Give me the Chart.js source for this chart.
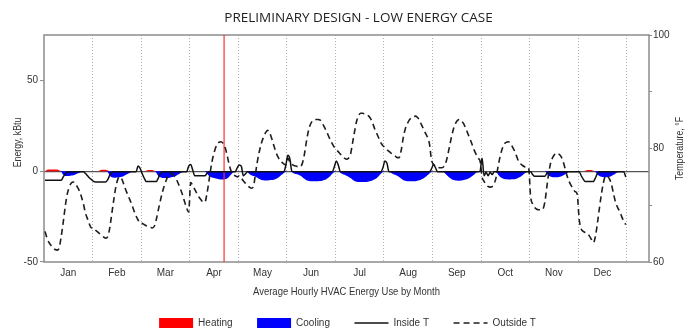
<!DOCTYPE html>
<html>
<head>
<meta charset="utf-8">
<script src="https://cdn.jsdelivr.net/npm/chart.js@4.4.1/dist/chart.umd.min.js"></script>
<style>
  html, body { margin: 0; padding: 0; background: #ffffff; }
  #wrap { width: 695px; height: 333px; }
</style>
</head>
<body>
<div id="wrap"><canvas id="chart" width="695" height="333"></canvas></div>
<script>
// Month names shown under the axis; each month holds 24 average hourly values.
const months = ['Jan', 'Feb', 'Mar', 'Apr', 'May', 'Jun', 'Jul', 'Aug', 'Sep', 'Oct', 'Nov', 'Dec'];

// Outside air temperature, °F (hours 0-23 for each month)
const outsideT = [
  65.4, 64.2, 63.4, 62.9, 62.5, 62.2, 62.1, 62.5, 64.5, 67.0, 69.8, 72.0, 73.2, 73.9, 74.1, 73.8, 73.2, 72.5, 71.5, 70.2, 68.6, 67.6, 66.6, 66.0,
  66.0, 65.6, 65.3, 65.0, 64.7, 64.4, 64.2, 64.5, 66.0, 68.5, 71.0, 73.2, 74.6, 75.0, 74.6, 73.6, 72.6, 71.8, 70.9, 70.0, 69.0, 68.1, 67.4, 66.8,
  66.8, 66.6, 66.4, 66.2, 66.1, 66.0, 66.3, 67.5, 69.2, 70.8, 72.3, 73.5, 74.5, 75.3, 75.6, 75.5, 75.1, 74.5, 73.7, 72.8, 71.8, 70.6, 69.5, 68.8,
  74.0, 73.5, 72.8, 72.1, 71.5, 71.0, 70.6, 70.5, 72.0, 74.2, 76.6, 78.5, 79.8, 80.7, 81.1, 81.2, 80.9, 80.2, 78.8, 77.2, 76.0, 75.4, 75.2, 75.0,
  75.2, 74.8, 74.3, 73.9, 73.5, 73.2, 73.0, 73.3, 75.5, 77.8, 79.6, 81.0, 82.0, 82.8, 83.2, 82.8, 81.8, 80.6, 79.5, 78.6, 78.0, 77.6, 77.3, 77.1,
  78.3, 77.6, 77.2, 77.0, 76.9, 76.8, 76.8, 77.2, 78.6, 80.8, 82.8, 84.1, 84.8, 85.1, 85.1, 85.1, 85.0, 84.5, 83.8, 83.1, 82.3, 81.5, 80.8, 80.2,
  79.8, 79.4, 79.0, 78.6, 78.3, 78.1, 78.3, 79.0, 81.0, 83.0, 84.8, 85.8, 86.2, 86.2, 86.1, 86.0, 85.7, 85.2, 84.4, 83.4, 82.6, 81.8, 81.0, 80.5,
  80.2, 79.8, 79.5, 79.2, 79.0, 78.7, 78.4, 78.4, 79.6, 81.8, 83.4, 84.3, 85.0, 85.4, 85.6, 85.7, 85.5, 85.0, 84.2, 83.5, 82.7, 82.0, 80.8, 78.0,
  77.2, 76.9, 76.7, 76.6, 76.6, 76.8, 77.4, 78.8, 80.5, 82.2, 83.6, 84.5, 85.0, 85.1, 84.8, 84.3, 83.5, 82.6, 81.7, 80.8, 79.8, 79.0, 78.3, 77.8,
  75.0, 74.2, 73.6, 73.3, 73.2, 73.3, 73.8, 75.0, 77.0, 78.7, 80.0, 80.8, 81.1, 81.2, 80.9, 80.3, 79.6, 78.7, 77.8, 77.3, 77.0, 76.8, 76.7, 76.6,
  71.5, 70.2, 69.6, 69.3, 69.2, 69.2, 69.3, 70.5, 73.2, 75.8, 77.6, 78.5, 79.0, 79.2, 79.0, 78.6, 77.8, 76.5, 75.2, 74.2, 73.5, 72.9, 72.4, 72.0,
  67.5, 65.8, 65.4, 65.2, 65.0, 64.6, 64.0, 63.4, 64.5, 66.8, 69.5, 72.0, 74.0, 75.2, 75.1, 74.6, 73.6, 72.0, 70.5, 69.6, 68.9, 68.0, 67.2, 66.6
];

// Inside air temperature, °F
const insideT = [
  74.4, 74.4, 74.4, 74.4, 74.4, 74.4, 74.4, 74.4, 74.4, 75.0, 75.5, 75.9, 75.9, 75.9, 75.9, 75.9, 75.9, 75.9, 75.9, 75.9, 75.6, 75.2, 74.8, 74.5,
  74.2, 74.1, 74.1, 74.1, 74.1, 74.1, 74.1, 74.5, 75.3, 75.8, 75.9, 75.9, 75.9, 75.9, 75.9, 75.9, 75.9, 75.9, 75.9, 75.9, 75.9, 75.9, 76.9, 76.5,
  75.6, 74.8, 74.2, 74.2, 74.2, 74.2, 74.2, 74.2, 74.8, 75.6, 75.9, 75.9, 75.9, 75.9, 75.9, 75.9, 75.9, 75.9, 75.9, 75.9, 75.9, 75.9, 75.9, 76.9,
  77.2, 76.2, 75.2, 75.2, 75.2, 75.2, 75.2, 75.2, 75.6, 75.9, 75.9, 75.9, 75.9, 75.9, 75.9, 75.9, 75.9, 75.9, 75.9, 75.9, 75.9, 75.9, 75.9, 76.6,
  77.1, 76.9, 75.2, 75.5, 75.9, 75.9, 75.9, 75.9, 75.9, 75.9, 75.9, 75.9, 75.9, 75.9, 75.9, 75.9, 75.9, 75.9, 75.9, 75.9, 75.9, 75.9, 75.9, 77.0,
  78.8, 78.2, 76.0, 75.9, 75.9, 75.9, 75.9, 75.9, 75.9, 75.9, 75.9, 75.9, 75.9, 75.9, 75.9, 75.9, 75.9, 75.9, 75.9, 75.9, 75.9, 75.9, 75.9, 76.8,
  77.8, 77.0, 75.9, 75.9, 75.9, 75.9, 75.9, 75.9, 75.9, 75.9, 75.9, 75.9, 75.9, 75.9, 75.9, 75.9, 75.9, 75.9, 75.9, 75.9, 75.9, 75.9, 75.9, 76.6,
  77.8, 77.4, 75.9, 75.9, 75.9, 75.9, 75.9, 75.9, 75.9, 75.9, 75.9, 75.9, 75.9, 75.9, 75.9, 75.9, 75.9, 75.9, 75.9, 75.9, 75.9, 75.9, 75.9, 76.4,
  77.2, 76.6, 75.9, 75.9, 75.9, 75.9, 75.9, 75.9, 75.9, 75.9, 75.9, 75.9, 75.9, 75.9, 75.9, 75.9, 75.9, 75.9, 75.9, 75.9, 75.9, 75.9, 75.9, 76.0,
  78.3, 75.2, 75.8, 75.2, 75.8, 75.4, 75.9, 75.9, 75.9, 75.9, 75.9, 75.9, 75.9, 75.9, 75.9, 75.9, 75.9, 75.9, 75.9, 75.9, 75.9, 75.9, 75.9, 75.9,
  75.9, 75.4, 75.1, 75.1, 75.1, 75.1, 75.1, 75.1, 75.6, 75.9, 75.9, 75.9, 75.9, 75.9, 75.9, 75.9, 75.9, 75.9, 75.9, 75.9, 75.9, 75.9, 75.9, 75.9,
  75.9, 75.2, 74.6, 74.2, 74.2, 74.2, 74.2, 74.2, 74.8, 75.6, 75.9, 75.9, 75.9, 75.9, 75.9, 75.9, 75.9, 75.9, 75.9, 75.9, 75.9, 75.9, 75.9, 75.0
];

// Cooling energy, kBtu (drawn below zero)
const cooling = [
  0, 0, 0, 0, 0, 0, 0, 0, -0.3, -2.0, -2.6, -2.7, -2.6, -2.4, -2.2, -1.8, -1.3, -0.8, -0.3, 0, 0, 0, 0, 0,
  0, 0, 0, 0, 0, 0, 0, -0.5, -2.5, -3.4, -3.6, -3.6, -3.5, -3.3, -3.0, -2.6, -2.0, -1.4, -0.8, -0.2, 0, 0, 0, 0,
  0, 0, 0, 0, 0, 0, 0, -0.8, -2.6, -3.4, -3.7, -3.8, -3.8, -3.7, -3.5, -3.2, -2.8, -2.3, -1.7, -1.0, -0.4, 0, 0, 0,
  0, 0, 0, 0, 0, 0, 0, 0, -1.2, -2.5, -3.2, -3.6, -3.9, -4.2, -4.4, -4.6, -4.6, -4.4, -4.0, -3.0, -1.8, -0.6, 0, 0,
  0, 0, 0, 0, -0.5, -1.5, -2.2, -2.6, -3.0, -3.6, -4.3, -4.8, -5.0, -5.1, -5.1, -5.0, -4.9, -4.7, -4.3, -3.7, -2.9, -2.0, -1.0, -0.3,
  0, 0, -0.5, -1.2, -1.5, -1.8, -2.3, -3.0, -4.0, -4.8, -5.3, -5.5, -5.6, -5.6, -5.6, -5.5, -5.4, -5.2, -4.9, -4.4, -3.6, -2.6, -1.4, -0.4,
  0, 0, -0.8, -1.5, -2.0, -2.5, -3.0, -3.8, -4.7, -5.4, -5.8, -6.0, -6.0, -6.0, -6.0, -5.9, -5.7, -5.4, -5.0, -4.5, -3.7, -2.6, -1.4, -0.4,
  0, 0, 0, -0.8, -1.5, -2.0, -2.5, -3.2, -4.0, -4.8, -5.3, -5.5, -5.6, -5.6, -5.6, -5.5, -5.3, -5.0, -4.6, -4.0, -3.2, -2.2, -1.2, -0.3,
  0, 0, 0, 0, 0, -0.4, -1.5, -2.6, -3.6, -4.4, -4.9, -5.1, -5.2, -5.2, -5.1, -4.9, -4.6, -4.2, -3.6, -2.8, -1.9, -0.9, -0.2, 0,
  0, 0, 0, 0, 0, 0, 0, -0.5, -2.0, -3.2, -3.9, -4.3, -4.5, -4.6, -4.6, -4.5, -4.4, -4.1, -3.6, -3.0, -2.2, -1.3, -0.5, 0,
  0, 0, 0, 0, 0, 0, 0, 0, -1.2, -2.5, -3.0, -3.3, -3.4, -3.4, -3.2, -2.9, -2.4, -1.7, -1.0, -0.3, 0, 0, 0, 0,
  0, 0, 0, 0, 0, 0, 0, 0, -0.3, -1.8, -2.6, -3.0, -3.2, -3.3, -3.2, -3.0, -2.6, -2.0, -1.3, -0.6, -0.1, 0, 0, 0
];

// Heating energy, kBtu (small early-morning loads in the cold months)
const heating = [
  0, 0.8, 0.9, 0.9, 0.9, 0.9, 0.9, 0.5, 0, 0, 0, 0, 0, 0, 0, 0, 0, 0, 0, 0, 0, 0, 0, 0,
  0, 0, 0, 0.4, 0.8, 0.8, 0.8, 0.4, 0, 0, 0, 0, 0, 0, 0, 0, 0, 0, 0, 0, 0, 0, 0, 0,
  0, 0, 0.3, 0.7, 0.7, 0.7, 0.3, 0, 0, 0, 0, 0, 0, 0, 0, 0, 0, 0, 0, 0, 0, 0, 0, 0,
  0, 0, 0, 0, 0, 0, 0, 0, 0, 0, 0, 0, 0, 0, 0, 0, 0, 0, 0, 0, 0, 0, 0, 0,
  0, 0, 0, 0, 0, 0, 0, 0, 0, 0, 0, 0, 0, 0, 0, 0, 0, 0, 0, 0, 0, 0, 0, 0,
  0, 0, 0, 0, 0, 0, 0, 0, 0, 0, 0, 0, 0, 0, 0, 0, 0, 0, 0, 0, 0, 0, 0, 0,
  0, 0, 0, 0, 0, 0, 0, 0, 0, 0, 0, 0, 0, 0, 0, 0, 0, 0, 0, 0, 0, 0, 0, 0,
  0, 0, 0, 0, 0, 0, 0, 0, 0, 0, 0, 0, 0, 0, 0, 0, 0, 0, 0, 0, 0, 0, 0, 0,
  0, 0, 0, 0, 0, 0, 0, 0, 0, 0, 0, 0, 0, 0, 0, 0, 0, 0, 0, 0, 0, 0, 0, 0,
  0, 0, 0, 0, 0, 0, 0, 0, 0, 0, 0, 0, 0, 0, 0, 0, 0, 0, 0, 0, 0, 0, 0, 0,
  0, 0, 0, 0, 0, 0, 0, 0, 0, 0, 0, 0, 0, 0, 0, 0, 0, 0, 0, 0, 0, 0, 0, 0,
  0, 0, 0, 0.3, 0.7, 0.7, 0.7, 0.3, 0, 0, 0, 0, 0, 0, 0, 0, 0, 0, 0, 0, 0, 0, 0, 0
];

// Selected hour (red cursor line), counted from the first hour of January
const markerHour = 89;

const energyTicks = [-50, 0, 50];
const tempTicks = [60, 70, 80, 90, 100];
const tempTickLabels = [60, 80, 100];

const chartTitle = 'PRELIMINARY DESIGN - LOW ENERGY CASE';
const xTitle = 'Average Hourly HVAC Energy Use by Month';
const yTitle = 'Energy, kBtu';
const y2Title = 'Temperature, °F';

const HOURS_PER_MONTH = 24;
const SANS = "'Liberation Sans', Arial, sans-serif";
const TEXT = '#333333';
const clear = 'rgba(0,0,0,0)';

const toPoints = arr => arr.map((v, i) => ({ x: i + 0.5, y: v }));

Chart.defaults.font.family = SANS;
Chart.defaults.font.size = 10;
Chart.defaults.color = TEXT;

// Draw text squeezed horizontally so it reads like a narrow face
function narrowText(ctx, text, x, y, angle, squeeze) {
  ctx.save();
  ctx.translate(x, y);
  ctx.rotate(angle);
  ctx.scale(squeeze, 1);
  ctx.fillText(text, 0, 0);
  ctx.restore();
}

// Frame around the plot area plus the titles
const decor = {
  id: 'decor',
  beforeDatasetsDraw(chart) {
    const { ctx, chartArea: a } = chart;
    ctx.save();
    ctx.strokeStyle = '#8c8c8c';
    ctx.lineWidth = 1.5;
    ctx.strokeRect(a.left, a.top, a.right - a.left, a.bottom - a.top);
    ctx.restore();
  },
  afterDraw(chart) {
    const { ctx, chartArea: a } = chart;
    const cx = (a.left + a.right) / 2;
    const cy = (a.top + a.bottom) / 2;
    ctx.save();
    ctx.textAlign = 'center';
    ctx.textBaseline = 'middle';
    ctx.fillStyle = '#222222';
    ctx.font = "13.5px 'Open Sans', sans-serif";
    ctx.fillText(chartTitle, cx + 12, 18);

    ctx.fillStyle = TEXT;
    ctx.font = '11px ' + SANS;
    narrowText(ctx, xTitle, cx, a.bottom + 30, 0, 0.86);
    narrowText(ctx, yTitle, 17.5, cy - 6, -Math.PI / 2, 0.8);
    narrowText(ctx, y2Title, a.right + 31, cy, -Math.PI / 2, 0.8);
    ctx.restore();
  }
};

new Chart(document.getElementById('chart'), {
  type: 'line',
  data: {
    datasets: [
      {
        label: 'Heating', data: toPoints(heating), yAxisID: 'y',
        backgroundColor: '#ff0000', borderColor: clear, borderWidth: 1,
        fill: 'origin', pointRadius: 0, pointStyle: 'rect', order: 5
      },
      {
        label: 'Cooling', data: toPoints(cooling), yAxisID: 'y',
        backgroundColor: '#0000ff', borderColor: clear, borderWidth: 1,
        fill: 'origin', pointRadius: 0, pointStyle: 'rect', order: 4,
        cubicInterpolationMode: 'monotone'
      },
      {
        label: 'Inside T', data: toPoints(insideT), yAxisID: 'y2',
        borderColor: '#111111', backgroundColor: '#111111', borderWidth: 1.5,
        fill: false, pointRadius: 0, pointStyle: 'line', order: 0,
        cubicInterpolationMode: 'monotone'
      },
      {
        label: 'Outside T', data: toPoints(outsideT), yAxisID: 'y2',
        borderColor: '#1e1e1e', backgroundColor: '#1e1e1e', borderWidth: 1.6,
        borderDash: [6, 4], fill: false, pointRadius: 0, pointStyle: 'line', order: 1,
        cubicInterpolationMode: 'monotone'
      },
      {
        label: '', data: [{ x: markerHour, y: -50 }, { x: markerHour, y: 75 }], yAxisID: 'y',
        borderColor: '#ff3030', borderWidth: 1.2, fill: false, pointRadius: 0, order: 2
      }
    ]
  },
  options: {
    responsive: false,
    devicePixelRatio: 1,
    animation: false,
    events: [],
    layout: { padding: { top: 35, bottom: -5, left: 0, right: 0 } },
    plugins: {
      title: { display: false },
      tooltip: { enabled: false },
      legend: {
        position: 'bottom',
        labels: {
          usePointStyle: true,
          pointStyleWidth: 34,
          boxHeight: 11,
          padding: 24.5,
          color: TEXT,
          font: { family: SANS, size: 10 },
          filter: item => item.text !== '',
          sort: (a, b) => a.datasetIndex - b.datasetIndex,
          generateLabels: chart => {
            const items = Chart.defaults.plugins.legend.labels.generateLabels(chart);
            items.forEach(item => {
              const ds = chart.data.datasets[item.datasetIndex];
              if (ds.pointStyle === 'line') {
                item.strokeStyle = ds.borderColor;
                item.lineWidth = ds.borderWidth;
                item.lineDash = ds.borderDash || [];
              } else {
                item.fillStyle = ds.backgroundColor;
                item.strokeStyle = clear;
                item.lineWidth = 0;
              }
            });
            return items;
          }
        }
      }
    },
    scales: {
      x: {
        type: 'linear',
        min: 0,
        max: 299,
        afterBuildTicks: scale => {
          const ticks = [];
          for (let k = 0; k <= months.length * 2; k++) ticks.push({ value: k * HOURS_PER_MONTH / 2 });
          scale.ticks = ticks;
        },
        afterFit: scale => { scale.height = 31.5; },
        ticks: {
          autoSkip: false,
          maxRotation: 0,
          padding: 5,
          color: TEXT,
          font: { family: SANS, size: 10 },
          callback: value => (value % HOURS_PER_MONTH === HOURS_PER_MONTH / 2)
            ? months[(value - HOURS_PER_MONTH / 2) / HOURS_PER_MONTH] : ''
        },
        grid: {
          drawTicks: false,
          lineWidth: 1,
          color: ctx => {
            const v = ctx.tick ? ctx.tick.value : -1;
            return (v > 0 && v % HOURS_PER_MONTH === 0 && v <= months.length * HOURS_PER_MONTH) ? '#b0b0b0' : clear;
          }
        },
        border: { display: false, dash: [1, 2] }
      },
      y: {
        type: 'linear',
        position: 'left',
        min: -50,
        max: 75,
        afterBuildTicks: scale => { scale.ticks = energyTicks.map(v => ({ value: v })); },
        afterFit: scale => { scale.width = 44; },
        ticks: { padding: 2, color: TEXT, font: { family: SANS, size: 10 } },
        grid: {
          color: ctx => (ctx.tick && ctx.tick.value === 0) ? '#555555' : clear,
          lineWidth: 1.2,
          tickColor: '#888888',
          tickWidth: 1,
          tickLength: 4
        },
        border: { display: false }
      },
      y2: {
        type: 'linear',
        position: 'right',
        min: 60,
        max: 100,
        afterBuildTicks: scale => { scale.ticks = tempTicks.map(v => ({ value: v })); },
        afterFit: scale => { scale.width = 46; },
        ticks: {
          padding: 1, color: TEXT, font: { family: SANS, size: 10 },
          callback: v => tempTickLabels.includes(v) ? String(v) : ''
        },
        grid: { drawOnChartArea: false, tickColor: '#888888', tickWidth: 1, tickLength: 3 },
        border: { display: false }
      }
    }
  },
  plugins: [decor]
});
</script>
</body>
</html>
